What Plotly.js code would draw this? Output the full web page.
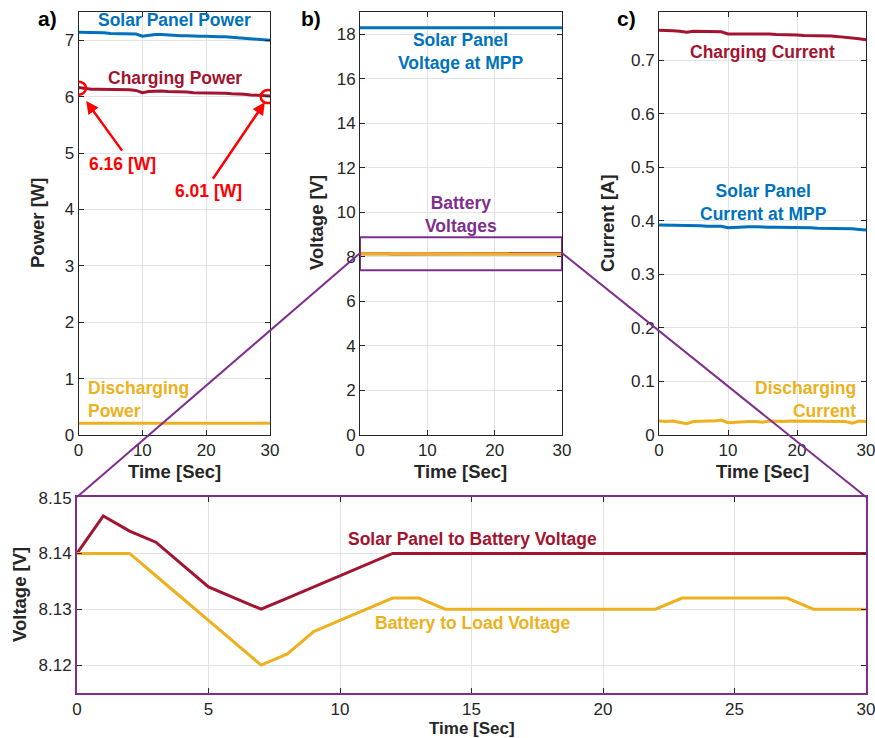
<!DOCTYPE html>
<html>
<head>
<meta charset="utf-8">
<script src="https://cdn.plot.ly/plotly-3.0.1.min.js"></script>
<style>html,body{margin:0;padding:0;background:#fff}#chart{width:875px;height:738px}</style>
</head>
<body>
<div id="chart"></div>
<script>
// ---------- data ----------
const time = [0,1,2,3,4,5,6,7,8,9,10,11,12,13,14,15,16,17,18,19,20,21,22,23,24,25,26,27,28,29,30];

const solarPanelPower = [7.14,7.14,7.13,7.13,7.13,7.12,7.12,7.12,7.12,7.11,7.07,7.09,7.10,7.10,7.09,7.09,7.08,7.08,7.07,7.07,7.07,7.06,7.06,7.06,7.05,7.05,7.04,7.03,7.02,7.01,7.00];
const chargingPower   = [6.16,6.14,6.13,6.13,6.13,6.12,6.12,6.12,6.12,6.11,6.07,6.09,6.10,6.10,6.09,6.09,6.08,6.08,6.07,6.07,6.07,6.06,6.06,6.06,6.05,6.05,6.04,6.03,6.02,6.02,6.01];
const dischargingPower= [0.21,0.21,0.21,0.21,0.21,0.21,0.21,0.21,0.21,0.21,0.21,0.21,0.21,0.21,0.21,0.21,0.21,0.21,0.21,0.21,0.21,0.21,0.21,0.21,0.21,0.21,0.21,0.21,0.21,0.21,0.21];

const solarPanelVoltage = [18.29,18.29,18.29,18.28,18.29,18.29,18.29,18.28,18.29,18.29,18.28,18.29,18.29,18.29,18.28,18.29,18.29,18.29,18.28,18.29,18.29,18.29,18.28,18.29,18.29,18.29,18.28,18.29,18.29,18.29,18.29];
const solarToBatteryVoltage = [8.14,8.1467,8.144,8.142,8.138,8.134,8.132,8.13,8.132,8.134,8.136,8.138,8.14,8.14,8.14,8.14,8.14,8.14,8.14,8.14,8.14,8.14,8.14,8.14,8.14,8.14,8.14,8.14,8.14,8.14,8.14];
const batteryToLoadVoltage  = [8.14,8.14,8.14,8.136,8.132,8.128,8.124,8.12,8.122,8.126,8.128,8.13,8.132,8.132,8.13,8.13,8.13,8.13,8.13,8.13,8.13,8.13,8.13,8.132,8.132,8.132,8.132,8.132,8.13,8.13,8.13];

const chargingCurrent    = [0.756,0.756,0.755,0.754,0.752,0.754,0.754,0.754,0.753,0.753,0.749,0.749,0.750,0.750,0.750,0.749,0.749,0.748,0.748,0.747,0.747,0.746,0.746,0.745,0.745,0.745,0.744,0.743,0.742,0.740,0.738];
const solarPanelCurrent  = [0.392,0.392,0.391,0.391,0.391,0.391,0.391,0.390,0.390,0.390,0.387,0.388,0.389,0.389,0.389,0.388,0.388,0.388,0.388,0.387,0.387,0.387,0.387,0.386,0.386,0.386,0.386,0.385,0.385,0.384,0.383];
const dischargingCurrent = [0.026,0.025,0.026,0.024,0.021,0.025,0.026,0.026,0.026,0.028,0.023,0.024,0.024,0.025,0.025,0.024,0.026,0.025,0.025,0.026,0.026,0.025,0.026,0.025,0.026,0.026,0.026,0.025,0.022,0.026,0.025];

const topTicksX = [0,10,20,30];
const powerTicks = [0,1,2,3,4,5,6,7];
const voltageTicks = [0,2,4,6,8,10,12,14,16,18];
const currentTicks = [0,0.1,0.2,0.3,0.4,0.5,0.6,0.7];
const zoomTicksX = [0,5,10,15,20,25,30];
const zoomTicksY = [8.12,8.13,8.14,8.15];
const zoomTickLabelsY = ['8.12','8.13','8.14','8.15'];

// ---------- styling ----------
const BLUE = '#0072BD', RED = '#A2142F', YEL = '#EDB120', PUR = '#7E2F8E', BRIGHT = '#FF0000';
const FONT = 'Liberation Sans, Arial, Helvetica, sans-serif';
const W = 875, H = 738;
const px = v => v / W, py = v => 1 - v / H;

function ax(domain, range, ticks, extra) {
  return Object.assign({
    domain: domain, range: range, tickvals: ticks, ticks: 'inside', ticklen: 5,
    tickcolor: '#262626', linecolor: '#262626', linewidth: 1, mirror: 'ticks',
    showgrid: true, gridcolor: '#e3e3e3', gridwidth: 1, zeroline: false,
    ticklabeloverflow: 'allow',
    tickfont: {family: FONT, size: 17, color: '#262626'}, showline: true, fixedrange: true
  }, extra || {});
}
const lw = 3;
const traces = [
  {x: time, y: solarPanelPower, xaxis: 'x', yaxis: 'y', mode: 'lines', line: {color: BLUE, width: lw}},
  {x: time, y: chargingPower, xaxis: 'x', yaxis: 'y', mode: 'lines', line: {color: RED, width: lw}},
  {x: time, y: dischargingPower, xaxis: 'x', yaxis: 'y', mode: 'lines', line: {color: YEL, width: lw}},
  {x: time, y: solarPanelVoltage, xaxis: 'x2', yaxis: 'y2', mode: 'lines', line: {color: BLUE, width: lw}},
  {x: time, y: solarToBatteryVoltage, xaxis: 'x2', yaxis: 'y2', mode: 'lines', line: {color: RED, width: lw}},
  {x: time, y: batteryToLoadVoltage, xaxis: 'x2', yaxis: 'y2', mode: 'lines', line: {color: YEL, width: lw}},
  {x: time, y: chargingCurrent, xaxis: 'x3', yaxis: 'y3', mode: 'lines', line: {color: RED, width: lw}},
  {x: time, y: solarPanelCurrent, xaxis: 'x3', yaxis: 'y3', mode: 'lines', line: {color: BLUE, width: lw}},
  {x: time, y: dischargingCurrent, xaxis: 'x3', yaxis: 'y3', mode: 'lines', line: {color: YEL, width: lw}},
  {x: time, y: solarToBatteryVoltage, xaxis: 'x4', yaxis: 'y4', mode: 'lines', line: {color: RED, width: lw}},
  {x: time, y: batteryToLoadVoltage, xaxis: 'x4', yaxis: 'y4', mode: 'lines', line: {color: YEL, width: lw}}
];

const topY = [py(435), py(12)];
const layout = {
  width: W, height: H, margin: {l: 0, r: 0, t: 0, b: 0},
  paper_bgcolor: '#fff', plot_bgcolor: '#fff', showlegend: false,
  font: {family: FONT, color: '#262626'},
  xaxis:  ax([px(78.5), px(270)], [0, 30], topTicksX, {anchor: 'y'}),
  yaxis:  ax(topY, [0, 7.5], powerTicks, {anchor: 'x'}),
  xaxis2: ax([px(360), px(562)], [0, 30], topTicksX, {anchor: 'y2'}),
  yaxis2: ax(topY, [0, 19], voltageTicks, {anchor: 'x2'}),
  xaxis3: ax([px(659), px(866)], [0, 30], topTicksX, {anchor: 'y3'}),
  yaxis3: ax(topY, [0, 0.79], currentTicks, {anchor: 'x3'}),
  xaxis4: ax([px(77), px(866)], [0, 30], zoomTicksX, {anchor: 'y4', linecolor: PUR, linewidth: 2}),
  yaxis4: ax([py(693), py(497)], [8.115, 8.1501], zoomTicksY, {anchor: 'x4', ticktext: zoomTickLabelsY, linecolor: PUR, linewidth: 2}),
  shapes: [
    {type: 'rect', xref: 'x2', yref: 'y2', x0: 0, x1: 30, y0: 7.4, y1: 8.88, line: {color: PUR, width: 2}},
    {type: 'line', xref: 'paper', yref: 'paper', x0: px(360), y0: py(253), x1: px(77), y1: py(497), line: {color: PUR, width: 2}},
    {type: 'line', xref: 'paper', yref: 'paper', x0: px(562), y0: py(253), x1: px(866), y1: py(497), line: {color: PUR, width: 2}},
    {type: 'circle', xref: 'x', yref: 'y', xsizemode: 'pixel', ysizemode: 'pixel', xanchor: 0, yanchor: 6.15, x0: -7.5, x1: 7.5, y0: -6.5, y1: 6.5, line: {color: BRIGHT, width: 2.5}},
    {type: 'circle', xref: 'x', yref: 'y', xsizemode: 'pixel', ysizemode: 'pixel', xanchor: 29.7, yanchor: 6.0, x0: -7.5, x1: 7.5, y0: -6.5, y1: 6.5, line: {color: BRIGHT, width: 2.5}}
  ],
  annotations: []
};

function txt(x, y, text, color, size, opts) {
  layout.annotations.push(Object.assign({
    xref: 'paper', yref: 'paper', x: px(x), y: py(y), text: text, showarrow: false,
    xanchor: 'center', yanchor: 'middle', font: {family: FONT, size: size, color: color}
  }, opts || {}));
}
// panel labels
txt(47, 18, '<b>a)</b>', '#000', 21);
txt(311, 18, '<b>b)</b>', '#000', 21);
txt(626, 18, '<b>c)</b>', '#000', 21);
// axis titles
const TS = 18.5;
txt(38, 223, '<b>Power [W]</b>', '#262626', TS, {textangle: -90});
txt(317, 223, '<b>Voltage [V]</b>', '#262626', TS, {textangle: -90});
txt(608, 223, '<b>Current [A]</b>', '#262626', TS, {textangle: -90});
txt(174, 471, '<b>Time [Sec]</b>', '#262626', TS);
txt(461, 471, '<b>Time [Sec]</b>', '#262626', TS);
txt(762, 471, '<b>Time [Sec]</b>', '#262626', TS);
txt(19, 595, '<b>Voltage [V]</b>', '#262626', TS, {textangle: -90});
txt(472, 728.5, '<b>Time [Sec]</b>', '#262626', 17);
// series labels
const LS = 17.5;
txt(174, 20, '<b>Solar Panel Power</b>', BLUE, LS);
txt(175, 78, '<b>Charging Power</b>', RED, LS);
txt(86, 400, '<b>Discharging<br>Power</b>', YEL, LS, {xanchor: 'left', align: 'left'});
txt(122, 164, '<b>6.16 [W]</b>', BRIGHT, LS);
txt(208, 191, '<b>6.01 [W]</b>', BRIGHT, LS);
txt(460, 52, '<b>Solar Panel<br>Voltage at MPP</b>', BLUE, LS);
txt(461, 215, '<b>Battery<br>Voltages</b>', PUR, LS);
txt(762, 52, '<b>Charging Current</b>', RED, LS);
txt(763, 202, '<b>Solar Panel<br>Current at MPP</b>', BLUE, LS);
txt(858, 399, '<b>Discharging<br>Current</b>', YEL, LS, {xanchor: 'right', align: 'right'});
txt(472, 539, '<b>Solar Panel to Battery Voltage</b>', RED, LS);
txt(472, 623, '<b>Battery to Load Voltage</b>', YEL, LS);
// arrows
layout.annotations.push({xref: 'x', yref: 'y', x: 1.2, y: 5.92, ax: 37, ay: 51, text: '', showarrow: true,
  arrowhead: 2, arrowsize: 1, arrowwidth: 2.5, arrowcolor: BRIGHT, standoff: 0});
layout.annotations.push({xref: 'x', yref: 'y', x: 29.2, y: 5.90, ax: -53, ay: 78, text: '', showarrow: true,
  arrowhead: 2, arrowsize: 1, arrowwidth: 2.5, arrowcolor: BRIGHT, standoff: 0});

Plotly.newPlot('chart', traces, layout, {staticPlot: true, displayModeBar: false});
</script>
</body>
</html>
